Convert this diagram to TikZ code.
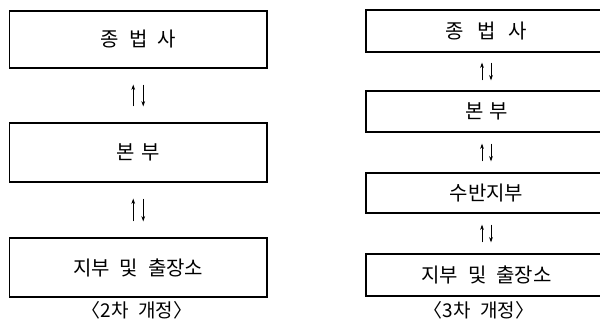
\documentclass[tikz,border=0pt]{standalone}
\usepackage{fontspec}
\setmainfont{Noto Sans CJK KR}[WordSpace=2.2]
\usetikzlibrary{arrows.meta}
\begin{document}
\begin{tikzpicture}[x=1pt,y=-1pt,
  box/.style={draw, line width=1.1pt, inner sep=0pt, font=\fontsize{20}{24}\selectfont},
  captext/.style={inner sep=0pt, font=\fontsize{19}{22}\selectfont},
  arr/.style={-{Stealth[length=5.5pt,width=3.8pt]}, line width=0.9pt},
]
\useasboundingbox (0,0) rectangle (600,322);
\clip (0,0) rectangle (600,322);
% left column
\node[box, minimum width=257.5pt, minimum height=57pt] (L1) at (138.25,39.5) {종 법 사};
\node[box, minimum width=257.5pt, minimum height=59pt] (L2) at (138.25,152.5) {\spaceskip=6pt 본 부};
\node[box, minimum width=257.5pt, minimum height=59pt] (L3) at (138.25,267.5) {지부 및 출장소};
\node[captext] (C1) at (137,310) {〈2차 개정〉};
% right column
\node[box, minimum width=241pt, minimum height=42pt] (R1) at (486.5,31) {\spaceskip=13pt 종 법 사};
\node[box, minimum width=241pt, minimum height=41pt] (R2) at (486.5,111.5) {\spaceskip=6pt 본 부};
\node[box, minimum width=241pt, minimum height=40pt] (R3) at (486.5,193) {수반지부};
\node[box, minimum width=241pt, minimum height=42pt] (R4) at (486.5,275) {지부 및 출장소};
\node[captext] (C2) at (479,310) {〈3차 개정〉};
% left arrows
\draw[arr, shorten <=16pt, shorten >=16pt] ([xshift=-5pt]L2.north) -- ([xshift=-5pt]L1.south);
\draw[arr, shorten <=16pt, shorten >=16pt] ([xshift=5pt]L1.south) -- ([xshift=5pt]L2.north);
\draw[arr, shorten <=16pt, shorten >=16pt] ([xshift=-5pt]L3.north) -- ([xshift=-5pt]L2.south);
\draw[arr, shorten <=16pt, shorten >=16pt] ([xshift=5pt]L2.south) -- ([xshift=5pt]L3.north);
% right arrows
\draw[arr, shorten <=10pt, shorten >=10pt] ([xshift=-4.5pt]R2.north) -- ([xshift=-4.5pt]R1.south);
\draw[arr, shorten <=10pt, shorten >=10pt] ([xshift=4.5pt]R1.south) -- ([xshift=4.5pt]R2.north);
\draw[arr, shorten <=11pt, shorten >=11pt] ([xshift=-4.5pt]R3.north) -- ([xshift=-4.5pt]R2.south);
\draw[arr, shorten <=11pt, shorten >=11pt] ([xshift=4.5pt]R2.south) -- ([xshift=4.5pt]R3.north);
\draw[arr, shorten <=11pt, shorten >=11pt] ([xshift=-4.5pt]R4.north) -- ([xshift=-4.5pt]R3.south);
\draw[arr, shorten <=11pt, shorten >=11pt] ([xshift=4.5pt]R3.south) -- ([xshift=4.5pt]R4.north);
\end{tikzpicture}
\end{document}
